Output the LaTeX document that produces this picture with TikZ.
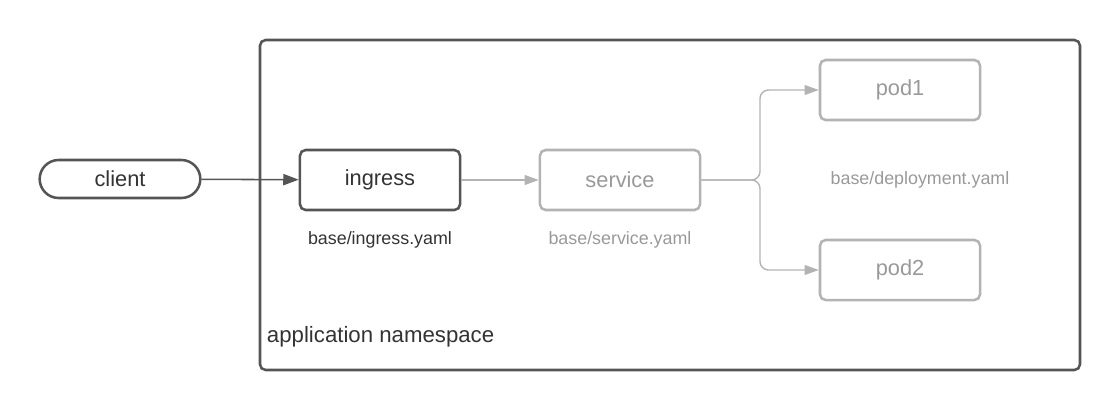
\documentclass[tikz,border=0pt]{standalone}
\usepackage{fontspec}
\setmainfont{Liberation Sans}
\usepackage{xcolor}
\definecolor{Dark}{HTML}{555555}
\definecolor{DarkText}{HTML}{333333}
\definecolor{Light}{HTML}{B3B3B3}
\definecolor{LightText}{HTML}{999999}
\usetikzlibrary{arrows.meta, positioning, shapes}
\tikzset{
  box/.style={
    rectangle, rounded corners=4pt,
    minimum width=4cm, minimum height=1.5cm,
    line width=1.8pt, font=\fontsize{15.5}{18}\selectfont
  },
  darkBox/.style={box, draw=Dark, text=DarkText},
  lightBox/.style={box, draw=Light, text=LightText},
  file/.style={font=\fontsize{12.7}{15}\selectfont},
  dArr/.style={-{Triangle[length=11pt, width=8pt]}, line width=1.1pt, color=Dark},
  lArr/.style={-{Triangle[length=10pt, width=7pt]}, line width=1pt, color=Light},
}

\begin{document}
\begin{tikzpicture}[x=0.025cm, y=-0.025cm]
\useasboundingbox (0,0) rectangle (1120,410);

% namespace frame
\draw[line width=1.8pt, draw=Dark, rounded corners=4pt] (260,40) rectangle (1080,370);
\node[anchor=west, text=DarkText, font=\fontsize{15.8}{19}\selectfont] (ns) at (262,337) {application namespace};

% client
\node[rounded rectangle, draw=Dark, line width=1.8pt, minimum width=4.25cm, minimum height=0.95cm, text=DarkText, font=\fontsize{15.5}{18}\selectfont] (client) at (120,179) {client};

% objects
\node[darkBox] (ingress) at (380,180) {ingress};
\node[lightBox] (service) at (620,180) {service};
\node[lightBox] (pod1) at (900,90) {pod1};
\node[lightBox] (pod2) at (900,270) {pod2};

% file labels
\node[file, text=DarkText] (ingressFile) at (380,240) {base/ingress.yaml};
\node[file, text=LightText] (serviceFile) at (620,240) {base/service.yaml};
\node[file, text=LightText] (deployFile) at (920,180) {base/deployment.yaml};

% connectors
\coordinate (fork) at (760,180);
\draw[dArr] (client) -- (ingress);
\draw[lArr] (ingress) -- (service);
\draw[lArr, rounded corners=6pt] (service.east) -- (fork) |- (pod1.west);
\draw[lArr, rounded corners=6pt] (service.east) -- (fork) |- (pod2.west);

\end{tikzpicture}
\end{document}
